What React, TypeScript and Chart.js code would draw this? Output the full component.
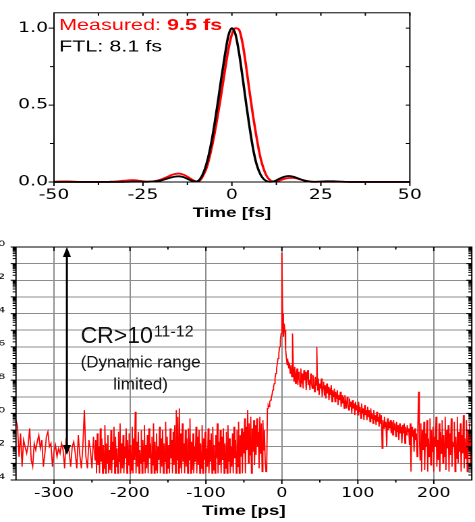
import React, { useEffect, useRef } from 'react';
import { Chart, registerables } from 'chart.js';

Chart.register(...registerables);

// horizontal stretch of the whole picture (canvas drawn at 352 px, shown at 475 px)
const S = 475 / 352;

// ---------------- Top panel: pulse intensity ----------------
const PULSE_T0 = -50; // fs
const PULSE_DT = 1; // fs
const FTL_INTENSITY = [
  0, 0, 0, 0, 0, 0, 0, 0, 0, 0, 0, 0, 0, 0, 0, 0, 0, 0, 0, 0,
  0.001, 0.001, 0.002, 0.002, 0.002, 0.001, 0.001, 0.002, 0.003, 0.006,
  0.010, 0.016, 0.023, 0.030, 0.035, 0.037, 0.034, 0.026, 0.015, 0.006,
  0.003, 0.018, 0.06, 0.13, 0.23, 0.36, 0.51, 0.67, 0.82, 0.95,
  1.0, 0.96, 0.84, 0.68, 0.51, 0.35, 0.21, 0.11, 0.05, 0.017,
  0.004, 0.001, 0.006, 0.017, 0.028, 0.036, 0.039, 0.036, 0.029, 0.020,
  0.012, 0.006, 0.002, 0.001, 0.002, 0.003, 0.004, 0.005, 0.005, 0.004,
  0.003, 0.002, 0.001,
  0, 0, 0, 0, 0, 0, 0, 0, 0, 0, 0, 0, 0, 0, 0, 0, 0, 0,
];
const MEASURED_INTENSITY = [
  0.002, 0.003, 0.004, 0.004, 0.004, 0.003, 0.002, 0.001,
  0.001, 0.001, 0.001, 0.001, 0.001, 0.001, 0.001, 0.001,
  0.002, 0.003, 0.005, 0.007, 0.009, 0.011, 0.012, 0.011, 0.008, 0.005,
  0.003, 0.003, 0.005, 0.009, 0.016, 0.025, 0.035, 0.045, 0.052, 0.055,
  0.051, 0.041, 0.027, 0.013, 0.004, 0.010, 0.045, 0.10, 0.19, 0.30,
  0.43, 0.57, 0.72, 0.86, 0.96, 1.0, 0.99, 0.90, 0.75, 0.58,
  0.42, 0.28, 0.16, 0.08, 0.03, 0.008, 0.002, 0.007, 0.015, 0.022,
  0.026, 0.027, 0.024, 0.018, 0.012, 0.007, 0.003, 0.002,
  0.001, 0.001, 0.001, 0.001, 0.001, 0.001, 0.001, 0.001, 0.001, 0.001,
  0.001, 0.001, 0.001, 0.001, 0.001, 0.001, 0.001, 0.001, 0.001, 0.001,
  0.001, 0.001, 0.001, 0.001, 0.001, 0.001, 0.001,
];
const PULSE_X_TICKS = [-50, -25, 0, 25, 50];
const PULSE_X_MINOR = [-37.5, -12.5, 12.5, 37.5];
const PULSE_Y_TICKS = [0, 0.5, 1.0];
const PULSE_Y_MINOR = [0.25, 0.75];
const PULSE_X_TITLE = 'Time [fs]';
const MEASURED_LABEL = 'Measured: ';
const MEASURED_VALUE = '9.5 fs';
const FTL_LABEL = 'FTL: 8.1 fs';

// ---------------- Bottom panel: contrast (log10 of intensity) ----------------
// coarse pre-pulse noise: -350 .. -246 ps, every 2 ps
const NOISE_START = -350;
const NOISE_STEP = 2;
const NOISE_LOG10 = [
  -10.4, -10.8, -12.6, -11.2, -13.2, -11.6, -12.0, -12.4, -11.9, -10.9,
  -12.8, -13.2, -11.8, -12.2, -11.7, -11.3, -12.1, -11.6, -13.2, -12.4,
  -11.4, -11.1, -12.0, -11.8, -13.2, -12.3, -11.9, -12.6, -12.1, -12.4,
  -11.8, -12.2, -13.3, -11.5, -12.0, -12.3, -13.2, -12.0, -11.7, -12.4,
  -13.3, -11.3, -12.5, -13.3, -12.0, -9.8, -12.6, -13.3, -11.6, -12.2,
  -13.3, -11.4, -12.8,
];
// dense pre-pulse noise: -245 .. -21 ps, every 1 ps
const DENSE_START = -245;
const DENSE_STEP = 1;
const DENSE_LOG10 = [
  -11.6, -13.6, -11.2, -13.1, -12.0, -13.6, -10.9, -12.9, -11.5, -13.6, -11.9, -13.3, -10.7, -13.6, -11.8,
  -13.0, -11.3, -13.6, -12.2, -13.4, -11.0, -13.6, -11.7, -12.8, -10.8, -13.6, -11.4, -13.2, -12.1, -13.6,
  -11.1, -12.9, -10.6, -13.6, -11.8, -13.3, -11.3, -13.6, -12.0, -12.7, -10.9, -13.6, -11.6, -13.1, -11.2,
  -13.6, -11.9, -13.4, -10.8, -13.6, -11.5, -12.8, -9.9, -13.6, -11.7, -13.2, -11.1, -13.6, -12.2, -13.0,
  -11.0, -13.6, -11.6, -12.9, -10.7, -13.6, -11.9, -13.3, -11.3, -13.6, -10.9, -12.7, -11.8, -13.6, -11.4,
  -13.1, -10.6, -13.6, -11.7, -13.4, -11.2, -13.6, -12.0, -12.8, -10.8, -13.6, -11.5, -13.2, -11.0, -13.6,
  -11.8, -12.9, -10.5, -13.6, -11.4, -13.3, -11.9, -13.6, -10.9, -12.7, -11.6, -13.6, -11.1, -13.1, -10.7,
  -13.6, -9.8, -12.8, -10.2, -13.6, -9.7, -13.3, -11.2, -13.6, -10.6, -12.9, -11.8, -13.6, -11.0, -13.2,
  -11.5, -13.6, -10.9, -12.8, -10.3, -13.6, -11.7, -13.4, -11.2, -13.6, -12.0, -12.9, -10.8, -13.6, -11.4,
  -13.1, -11.0, -13.6, -11.8, -13.3, -10.7, -13.6, -11.5, -12.8, -11.1, -13.6, -12.1, -13.2, -10.9, -13.6,
  -11.6, -12.9, -11.2, -13.6, -10.8, -13.4, -11.9, -13.6, -11.3, -12.7, -10.6, -13.6, -11.7, -13.1, -11.0,
  -13.6, -11.4, -12.8, -10.9, -13.6, -11.8, -13.3, -11.1, -13.6, -10.7, -12.9, -11.5, -13.6, -12.0, -13.2,
  -11.2, -13.6, -10.8, -12.7, -11.6, -13.6, -11.0, -13.2, -10.5, -13.6, -11.3, -12.6, -10.9, -13.6, -11.1,
  -12.4, -10.3, -13.6, -10.8, -12.2, -9.8, -13.0, -10.6, -12.5, -10.2, -13.6, -10.9, -12.3, -10.4, -13.1,
  -10.7, -12.5, -10.3, -12.0, -11.1, -13.3, -10.2, -12.4, -10.6, -13.5, -10.4, -12.2, -11.0, -12.8, -13.5,
];
// main pulse and post-pulse pedestal: -20 .. 250 ps, every 1 ps
const PULSE_START = -20;
const PULSE_STEP = 1;
const PULSE_LOG10 = [
  -13.4, -9.7, -9.5, -9.6, -9.3, -9.2, -9.0, -8.9, -8.6, -8.4, -8.2, -7.9, -7.6, -7.3, -7.0,
  -6.7, -6.4, -6.0, -5.6, -5.2, -0.35, -4.0, -5.4, -4.6, -5.0, -6.2, -6.7, -7.1, -6.9, -7.3,
  -7.0, -7.6, -7.1, -7.8, -5.2, -7.3, -8.1, -7.2, -8.2, -7.6, -7.3, -8.3, -7.5, -7.9, -8.4,
  -7.3, -8.2, -7.6, -8.5, -7.4, -8.0, -7.5, -8.6, -7.9, -7.4, -8.3, -8.0, -8.6, -7.6, -8.2,
  -8.5, -7.7, -8.1, -8.7, -7.8, -8.3, -6.0, -8.6, -7.9, -8.9, -8.2, -8.5, -7.9, -9.0, -8.4,
  -8.1, -8.9, -8.3, -9.1, -8.2, -8.8, -8.4, -9.2, -8.5, -8.9, -8.3, -9.3, -8.6, -9.0, -8.5,
  -9.3, -8.7, -9.1, -8.6, -9.5, -8.9, -9.2, -8.7, -9.6, -8.9, -9.4, -9.0, -9.7, -8.9, -9.3,
  -9.7, -9.0, -9.4, -9.8, -9.1, -9.6, -9.3, -10.0, -9.2, -9.7, -9.4, -10.1, -9.3, -9.8, -9.5,
  -10.1, -9.3, -9.9, -9.6, -10.3, -9.4, -10.0, -9.7, -10.4, -9.5, -10.1, -9.8, -10.4, -9.6, -10.2,
  -9.8, -10.5, -9.7, -10.3, -10.0, -10.6, -9.8, -10.4, -10.1, -10.7, -9.9, -10.5, -10.2, -10.8, -10.0,
  -10.6, -10.1, -12.1, -10.4, -10.9, -10.2, -10.8, -10.5, -12.0, -10.3, -11.0, -10.5, -10.9, -10.4, -11.2,
  -10.5, -11.3, -10.4, -11.0, -10.6, -11.4, -10.5, -11.1, -10.7, -11.6, -10.6, -11.2, -10.8, -11.8, -10.7,
  -11.2, -10.6, -11.8, -10.8, -11.3, -10.7, -11.1, -10.9, -11.9, -10.6, -13.5, -10.8, -11.4, -11.0, -12.3,
  -10.9, -11.6, -11.2, -12.6, -10.8, -8.7, -11.3, -12.8, -10.6, -13.5, -11.0, -12.2, -10.5, -13.4, -11.2,
  -12.0, -10.4, -13.5, -11.5, -12.6, -10.3, -13.1, -11.0, -12.3, -10.8, -13.5, -11.4, -12.0, -10.2, -13.2,
  -11.6, -12.8, -10.6, -13.5, -11.1, -12.4, -10.4, -13.0, -11.3, -12.6, -10.2, -13.4, -11.0, -12.1, -10.7,
  -13.5, -11.2, -12.5, -10.3, -13.2, -11.7, -12.0, -10.5, -13.5, -11.4, -12.7, -10.2, -13.0, -11.1, -12.3,
  -10.6, -13.5, -11.3, -12.4, -10.1, -13.3, -11.5, -12.7, -10.4, -13.5, -11.0, -12.2, -10.6, -13.1, -11.2,
  -12.5,
];
const TIME_TICKS = [-300, -200, -100, 0, 100, 200];
const TIME_MINOR = [-250, -150, -50, 50, 150];
const DECADES = [-14, -13, -12, -11, -10, -9, -8, -7, -6, -5, -4, -3, -2, -1, 0];
const DECADE_LABELS = [
  '10⁻¹⁴', '', '10⁻¹²', '', '10⁻¹⁰', '', '10⁻⁸', '', '10⁻⁶', '', '10⁻⁴', '', '10⁻²', '', '10⁰',
];
const TIME_TITLE = 'Time [ps]';
const ARROW_TIME = -283;
const ARROW_TOP_LOG = 0;
const ARROW_BOTTOM_LOG = -12.5;
const CR_TEXT = 'CR>10';
const CR_EXPONENT = '11-12';
const CR_NOTE = ['(Dynamic range', 'limited)'];
const CR_ANCHOR_TIME = -265;
const CR_ANCHOR_LOG = -5.77;

function segmentPoints(start: number, step: number, logs: number[]) {
  return logs.map((e, i) => ({ x: start + i * step, y: Math.pow(10, e) }));
}

const pulsePlugin = {
  id: 'pulseDecor',
  afterDatasetsDraw(chart: any) {
    const { ctx, chartArea: a, scales } = chart;
    const x = scales.x;
    const y = scales.y;
    ctx.save();
    ctx.strokeStyle = '#000';
    ctx.lineWidth = 1;
    ctx.strokeRect(a.left, a.top, a.right - a.left, a.bottom - a.top);
    ctx.beginPath();
    [...PULSE_X_TICKS, ...PULSE_X_MINOR].forEach((v) => {
      const px = x.getPixelForValue(v);
      const len = PULSE_X_TICKS.includes(v) ? 4 : 3;
      ctx.moveTo(px, a.bottom);
      ctx.lineTo(px, a.bottom + len);
      ctx.moveTo(px, a.top);
      ctx.lineTo(px, a.top + 3);
    });
    [...PULSE_Y_TICKS, ...PULSE_Y_MINOR].forEach((v) => {
      const py = y.getPixelForValue(v);
      const len = PULSE_Y_TICKS.includes(v) ? 4 : 3;
      ctx.moveTo(a.left - len, py);
      ctx.lineTo(a.left, py);
      ctx.moveTo(a.right, py);
      ctx.lineTo(a.right - 3, py);
    });
    ctx.stroke();

    const tx = a.left + 3.7;
    const ty = y.getPixelForValue(1.0);
    ctx.textAlign = 'left';
    ctx.textBaseline = 'alphabetic';
    ctx.font = '16px Arial';
    ctx.fillStyle = '#ff0000';
    ctx.fillText(MEASURED_LABEL, tx, ty + 2);
    const w = ctx.measureText(MEASURED_LABEL).width;
    ctx.font = 'bold 16px Arial';
    ctx.fillText(MEASURED_VALUE, tx + w, ty + 2);
    ctx.font = '16px Arial';
    ctx.fillStyle = '#000';
    ctx.fillText(FTL_LABEL, tx, ty + 23.3);
    ctx.restore();
  },
};

const contrastPlugin = {
  id: 'contrastDecor',
  afterDatasetsDraw(chart: any) {
    const { ctx, chartArea: a, scales } = chart;
    const x = scales.x;
    const y = scales.y;
    ctx.save();
    ctx.strokeStyle = '#000';
    ctx.lineWidth = 1;
    ctx.strokeRect(a.left, a.top, a.right - a.left, a.bottom - a.top);
    ctx.beginPath();
    DECADES.forEach((e) => {
      const py = y.getPixelForValue(Math.pow(10, e));
      ctx.moveTo(a.left - 4, py);
      ctx.lineTo(a.left, py);
      ctx.moveTo(a.right, py);
      ctx.lineTo(a.right - 4, py);
      if (e < 0) {
        for (let k = 2; k <= 9; k++) {
          const pm = y.getPixelForValue(k * Math.pow(10, e));
          ctx.moveTo(a.left - 2.5, pm);
          ctx.lineTo(a.left, pm);
          ctx.moveTo(a.right, pm);
          ctx.lineTo(a.right - 2.5, pm);
        }
      }
    });
    [...TIME_TICKS, ...TIME_MINOR].forEach((v) => {
      const px = x.getPixelForValue(v);
      const len = TIME_TICKS.includes(v) ? 4 : 2.5;
      ctx.moveTo(px, a.bottom);
      ctx.lineTo(px, a.bottom + len);
      ctx.moveTo(px, a.top);
      ctx.lineTo(px, a.top + len);
    });
    ctx.stroke();

    // double-headed arrow
    const ax = x.getPixelForValue(ARROW_TIME);
    const ay1 = y.getPixelForValue(Math.pow(10, ARROW_TOP_LOG));
    const ay2 = y.getPixelForValue(Math.pow(10, ARROW_BOTTOM_LOG));
    ctx.fillStyle = '#000';
    ctx.lineWidth = 1.5;
    ctx.beginPath();
    ctx.moveTo(ax, ay1 + 8);
    ctx.lineTo(ax, ay2 - 8);
    ctx.stroke();
    ctx.beginPath();
    ctx.moveTo(ax, ay1);
    ctx.lineTo(ax - 3, ay1 + 10);
    ctx.lineTo(ax + 3, ay1 + 10);
    ctx.closePath();
    ctx.fill();
    ctx.beginPath();
    ctx.moveTo(ax, ay2);
    ctx.lineTo(ax - 3, ay2 - 10);
    ctx.lineTo(ax + 3, ay2 - 10);
    ctx.closePath();
    ctx.fill();

    // annotation text, drawn unstretched
    const cx = x.getPixelForValue(CR_ANCHOR_TIME);
    const cy = y.getPixelForValue(Math.pow(10, CR_ANCHOR_LOG));
    ctx.translate(cx, cy);
    ctx.scale(1 / S, 1);
    ctx.fillStyle = '#111';
    ctx.textBaseline = 'alphabetic';
    ctx.textAlign = 'left';
    ctx.font = '23px Arial';
    ctx.fillText(CR_TEXT, 0, 0);
    const w = ctx.measureText(CR_TEXT).width;
    ctx.font = '16px Arial';
    ctx.fillText(CR_EXPONENT, w + 1, -6.5);
    ctx.textAlign = 'center';
    ctx.font = '17px Arial';
    ctx.fillText(CR_NOTE[0], 60, 24.4);
    ctx.fillText(CR_NOTE[1], 60, 46.5);
    ctx.restore();
  },
};

export default function App() {
  const topRef = useRef<HTMLCanvasElement>(null);
  const botRef = useRef<HTMLCanvasElement>(null);

  useEffect(() => {
    Chart.defaults.font.family = 'Arial';
    const pulseTimes = FTL_INTENSITY.map((_, i) => PULSE_T0 + i * PULSE_DT);
    const top = new Chart(topRef.current as HTMLCanvasElement, {
      type: 'line',
      data: {
        datasets: [
          {
            label: 'FTL',
            data: FTL_INTENSITY.map((v, i) => ({ x: pulseTimes[i], y: v })),
            borderColor: '#000000',
            borderWidth: 1.8,
            pointRadius: 0,
            cubicInterpolationMode: 'monotone',
            clip: false,
          },
          {
            label: 'Measured',
            data: MEASURED_INTENSITY.map((v, i) => ({ x: pulseTimes[i], y: v })),
            borderColor: '#ff0000',
            borderWidth: 1.8,
            pointRadius: 0,
            cubicInterpolationMode: 'monotone',
            clip: false,
          },
        ],
      },
      options: {
        animation: false,
        responsive: false,
        devicePixelRatio: 2,
        events: [],
        layout: { padding: { left: 0, right: 48.3, top: 9, bottom: 0 } },
        plugins: { legend: { display: false }, tooltip: { enabled: false } },
        scales: {
          x: {
            type: 'linear',
            min: -50,
            max: 50,
            afterBuildTicks: (s: any) => {
              s.ticks = PULSE_X_TICKS.map((v) => ({ value: v }));
            },
            afterFit: (s: any) => {
              s.height = 43;
            },
            grid: { display: false, drawTicks: false },
            border: { display: false },
            ticks: {
              padding: 5,
              maxRotation: 0,
              autoSkip: false,
              color: '#000',
              font: { family: 'DejaVu Sans', size: 14 },
            },
            title: {
              display: true,
              text: PULSE_X_TITLE,
              color: '#000',
              font: { family: 'Arial', size: 14, weight: 'bold' },
              padding: { top: 0, bottom: 3.6 },
            },
          },
          y: {
            type: 'linear',
            min: 0,
            max: 1.1,
            afterBuildTicks: (s: any) => {
              s.ticks = PULSE_Y_TICKS.map((v) => ({ value: v }));
            },
            afterFit: (s: any) => {
              s.width = 40;
            },
            grid: { display: false, drawTicks: false },
            border: { display: false },
            ticks: {
              padding: 4.4,
              autoSkip: false,
              color: '#000',
              font: { family: 'DejaVu Sans', size: 14 },
              callback: (v: any) => Number(v).toFixed(1),
            },
          },
        },
      },
      plugins: [pulsePlugin],
    } as any);

    const contrastPoints = [
      ...segmentPoints(NOISE_START, NOISE_STEP, NOISE_LOG10),
      ...segmentPoints(DENSE_START, DENSE_STEP, DENSE_LOG10),
      ...segmentPoints(PULSE_START, PULSE_STEP, PULSE_LOG10),
    ];

    const bot = new Chart(botRef.current as HTMLCanvasElement, {
      type: 'line',
      data: {
        datasets: [
          {
            label: 'Contrast',
            data: contrastPoints,
            borderColor: '#ff0000',
            borderWidth: 0.9,
            pointRadius: 0,
            tension: 0,
          },
        ],
      },
      options: {
        animation: false,
        responsive: false,
        devicePixelRatio: 2,
        events: [],
        layout: { padding: { left: 0, right: 2.4, top: 22, bottom: 0 } },
        plugins: { legend: { display: false }, tooltip: { enabled: false } },
        scales: {
          x: {
            type: 'linear',
            min: -350,
            max: 250,
            afterBuildTicks: (s: any) => {
              s.ticks = TIME_TICKS.map((v) => ({ value: v }));
            },
            afterFit: (s: any) => {
              s.height = 42;
            },
            grid: { display: true, drawTicks: false, color: '#8c8c8c', lineWidth: 1 },
            border: { display: false },
            ticks: {
              padding: 6,
              maxRotation: 0,
              autoSkip: false,
              color: '#000',
              font: { family: 'DejaVu Sans', size: 13 },
            },
            title: {
              display: true,
              text: TIME_TITLE,
              color: '#000',
              font: { family: 'Arial', size: 14, weight: 'bold' },
              padding: { top: 0, bottom: 2.3 },
            },
          },
          y: {
            type: 'logarithmic',
            min: 1e-14,
            max: 1,
            afterBuildTicks: (s: any) => {
              s.ticks = DECADES.map((e) => ({ value: Math.pow(10, e) }));
            },
            afterFit: (s: any) => {
              s.width = 11.85;
            },
            grid: { display: true, drawTicks: false, color: '#8c8c8c', lineWidth: 1 },
            border: { display: false },
            ticks: {
              padding: 8,
              autoSkip: false,
              color: '#000',
              font: { family: 'DejaVu Sans', size: 13 },
              callback: (_v: any, i: number) => DECADE_LABELS[i],
            },
          },
        },
      },
      plugins: [contrastPlugin],
    } as any);

    return () => {
      top.destroy();
      bot.destroy();
    };
  }, []);

  const wrap: React.CSSProperties = {
    position: 'absolute',
    left: 0,
    width: 352,
    transform: `scaleX(${S})`,
    transformOrigin: '0 0',
  };

  return (
    <div
      style={{
        position: 'absolute',
        left: 0,
        top: 0,
        width: 475,
        height: 522,
        overflow: 'hidden',
        background: '#fff',
      }}
    >
      <div style={{ ...wrap, top: 0, height: 225 }}>
        <canvas ref={topRef} width={352} height={225} />
      </div>
      <div style={{ ...wrap, top: 225, height: 297 }}>
        <canvas ref={botRef} width={352} height={297} />
      </div>
    </div>
  );
}
